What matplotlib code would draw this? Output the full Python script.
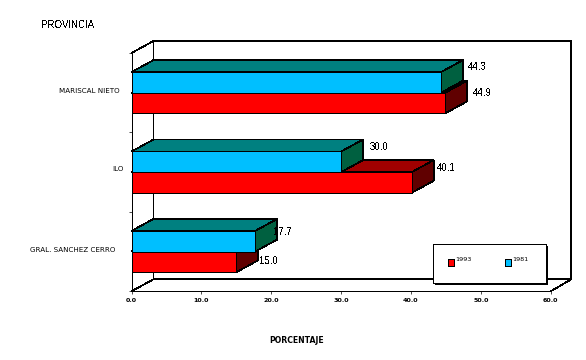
"""Barras 3D horizontales: porcentaje por provincia, 1993 y 1981."""
import matplotlib
matplotlib.use("Agg")
import matplotlib.pyplot as plt
from matplotlib.patches import Polygon, Rectangle

plt.rcParams["text.antialiased"] = False
plt.rcParams["patch.antialiased"] = False
plt.rcParams["lines.antialiased"] = False

provincias = ["GRAL. SANCHEZ CERRO", "ILO", "MARISCAL NIETO"]
valores_1993 = [15.0, 40.1, 44.9]
valores_1981 = [17.7, 30.0, 44.3]
x_ticks = [0, 10, 20, 30, 40, 50, 60]
y_ticks = [0, 1, 2, 3]

ROJO = ("#ff0000", "#a00000", "#600000")
AZUL = ("#00bfff", "#008080", "#006040")

W, H = 586, 360
X0, X1, Y0, Y1 = 131.5, 550.7, 291.3, 53.0  # plano frontal en pixeles
DX = 22 / ((X1 - X0) / 60)   # profundidad en unidades de datos
DY = 12 / ((Y0 - Y1) / 3)
ALTO = 0.26
LW = 0.5

fig = plt.figure(figsize=(W / 100, H / 100), dpi=100, facecolor="white")
ax = fig.add_axes([X0 / W, 1 - Y0 / H, (X1 - X0) / W, (Y0 - Y1) / H])
ax.set_xlim(0, 60)
ax.set_ylim(0, 3)
ax.patch.set_visible(False)
ax.spines["top"].set_visible(False)
ax.spines["right"].set_visible(False)
for s in ("left", "bottom"):
    ax.spines[s].set_linewidth(LW)


def linea(xs, ys, z=1):
    ax.plot(xs, ys, color="black", lw=LW, clip_on=False, zorder=z, solid_capstyle="butt")


# paredes del fondo
DX_FONDO = DX - 0.2
linea([0, DX, 60 + DX_FONDO, 60 + DX_FONDO, DX, DX], [3, 3 + DY, 3 + DY, DY, DY, 3 + DY])
linea([0, DX], [0, DY])
linea([60, 60 + DX_FONDO], [0, DY])


def barra(valor, base, colores, z):
    frente, arriba, lado = colores
    top = base + ALTO
    ax.add_patch(Polygon([(0, top), (DX, top + DY), (valor + DX, top + DY), (valor, top)],
                         fc=arriba, ec="black", lw=LW, clip_on=False, zorder=z))
    ax.add_patch(Polygon([(valor, base), (valor + DX, base + DY), (valor + DX, top + DY), (valor, top)],
                         fc=lado, ec="black", lw=LW, clip_on=False, zorder=z))


for i in range(len(provincias)):
    c = i + 0.5
    z = 2 + (2 - i) * 2
    barra(valores_1993[i], c - ALTO, ROJO, z)
    barra(valores_1981[i], c, AZUL, z)
    ax.barh(c + ALTO / 2, valores_1981[i], ALTO, color=AZUL[0], ec="black", lw=LW, zorder=z + 1)
    ax.barh(c - ALTO / 2, valores_1993[i], ALTO, color=ROJO[0], ec="black", lw=LW, zorder=z + 1)

# etiquetas de valor (desplazamiento en pixeles desde el extremo de la barra)
off_1993 = [(22.7, -9), (25.3, 4.5), (27.4, 0)]
off_1981 = [(18, 20), (29, 25.5), (27, 26)]
for i in range(len(provincias)):
    ax.annotate(f"{valores_1993[i]:.1f}", (valores_1993[i], i + 0.5), xytext=off_1993[i],
                textcoords="offset pixels", fontsize=7, family="Liberation Sans",
                va="center", zorder=20)
    ax.annotate(f"{valores_1981[i]:.1f}", (valores_1981[i], i + 0.5), xytext=off_1981[i],
                textcoords="offset pixels", fontsize=7, family="Liberation Sans",
                va="center", zorder=20)

ax.set_xticks(x_ticks)
ax.set_xticklabels([f"{v:.1f}" for v in x_ticks], fontsize=4.6, family="DejaVu Sans",
                   antialiased=True, weight="bold")
ax.set_yticks(y_ticks)
ax.set_yticklabels([])
ax.tick_params(axis="both", length=2.2, width=LW, pad=2.5)

off_nombres = [(-16.5, 1.3), (-7.5, 3), (-11.5, 1.5)]
for i, nombre in enumerate(provincias):
    ax.annotate(nombre, (0, i + 0.5), xytext=off_nombres[i], textcoords="offset pixels",
                fontsize=5.1, family="DejaVu Sans", ha="right", va="center", antialiased=True)

fig.text(41 / W, 1 - 25.5 / H, "PROVINCIA", fontsize=7, family="Liberation Sans", va="center")
fig.text(296.5 / W, 1 - 340.5 / H, "PORCENTAJE", fontsize=5.6, family="DejaVu Sans",
         weight="bold", ha="center", va="center", antialiased=True)


def caja(x, y, w, h, **kw):
    fig.add_artist(Rectangle((x / W, 1 - (y + h) / H), w / W, h / H,
                             transform=fig.transFigure, **kw))


# leyenda
caja(434.5, 245.5, 113.5, 39.5, fc="black", ec="none", zorder=30)
caja(432.5, 243.5, 113, 39, fc="white", ec="black", lw=LW, zorder=31)
etiquetas = ["1993", "1981"]
for k, (etq, col) in enumerate(zip(etiquetas, (ROJO[0], AZUL[0]))):
    xm = 447.5 + k * 57
    caja(xm, 259, 6.5, 6.5, fc=col, ec="black", lw=LW, zorder=32)
    fig.text((xm + 8) / W, 1 - 259.8 / H, etq, fontsize=4.6, family="DejaVu Sans",
             va="center", zorder=33, antialiased=True)

fig.savefig("out.png", dpi=100)
